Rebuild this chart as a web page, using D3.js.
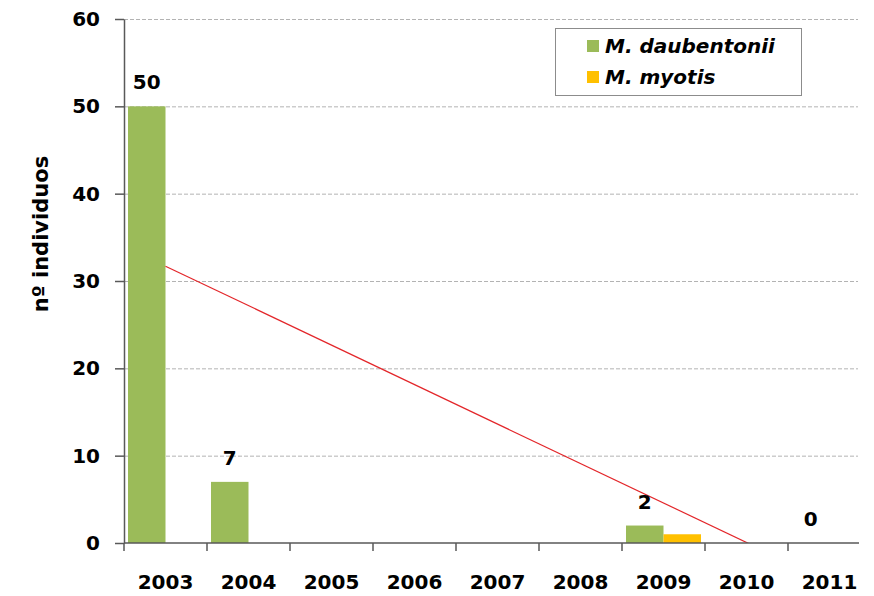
<!DOCTYPE html>
<html>
<head>
<meta charset="utf-8">
<script src="https://cdn.jsdelivr.net/npm/d3@7"></script>
<style>
  html, body { margin: 0; padding: 0; background: #fff; }
  svg { display: block; font-family: "DejaVu Sans", Verdana, sans-serif; }
</style>
</head>
<body>
<svg id="chart" width="874" height="596"></svg>
<script>
// Years surveyed
const years = ["2003", "2004", "2005", "2006", "2007", "2008", "2009", "2010", "2011"];
// Counts per species (null = no count that year)
const daubentonii = [50, 7, null, null, null, null, 2, null, 0];
const myotis = [0, 0, null, null, null, null, 1, null, null];
const seriesNames = ["M. daubentonii", "M. myotis"];
const seriesColors = ["#9BBB59", "#FFC000"];
const yTicks = [0, 10, 20, 30, 40, 50, 60];

const svg = d3.select("#chart");
const plotL = 124, plotR = 859, plotT = 19, plotB = 543;
const bandW = 83;

const x = d3.scaleBand().domain(years).range([plotL, plotL + bandW * years.length]).padding(0);
const xs = d3.scaleBand().domain(seriesNames).range([4, bandW - 4]).padding(0);
const y = d3.scaleLinear().domain([0, 60]).range([plotB, plotT]);

// Dashed horizontal gridlines
svg.append("g")
  .selectAll("line")
  .data(yTicks.filter(t => t > 0))
  .join("line")
  .attr("x1", plotL).attr("x2", plotR - 1)
  .attr("y1", d => y(d) + 0.5).attr("y2", d => y(d) + 0.5)
  .attr("stroke", "#b3b3b3")
  .attr("stroke-width", 1)
  .attr("stroke-dasharray", "4,2");

// Bars
const series = [daubentonii, myotis];
series.forEach((vals, si) => {
  svg.append("g")
    .selectAll("rect")
    .data(years.map((yr, i) => ({ yr, v: vals[i] })).filter(d => d.v !== null && d.v > 0))
    .join("rect")
    .attr("x", d => x(d.yr) + xs(seriesNames[si]))
    .attr("width", xs.bandwidth())
    .attr("y", d => y(d.v))
    .attr("height", d => y(0) - y(d.v))
    .attr("fill", seriesColors[si]);
});

// Linear trend of M. daubentonii (least squares over the counted years)
const pts = daubentonii.map((v, i) => ({ k: i + 1, v })).filter(d => d.v !== null);
const mk = d3.mean(pts, d => d.k), mv = d3.mean(pts, d => d.v);
const slope = d3.sum(pts, d => (d.k - mk) * (d.v - mv)) / d3.sum(pts, d => (d.k - mk) ** 2);
const icpt = mv - slope * mk;
const xk = k => x(years[k - 1]) + bandW / 2;

svg.append("clipPath").attr("id", "plotclip")
  .append("rect").attr("x", plotL).attr("y", plotT).attr("width", plotR - plotL).attr("height", plotB - plotT);

svg.append("line")
  .attr("clip-path", "url(#plotclip)")
  .attr("x1", xk(1)).attr("y1", y(icpt + slope * 1))
  .attr("x2", xk(years.length)).attr("y2", y(icpt + slope * years.length))
  .attr("stroke", "#E3262A")
  .attr("stroke-width", 1.2);

// Value labels for M. daubentonii
svg.append("g")
  .selectAll("text")
  .data(years.map((yr, i) => ({ yr, v: daubentonii[i] })).filter(d => d.v !== null))
  .join("text")
  .attr("x", d => x(d.yr) + xs(seriesNames[0]) + xs.bandwidth() / 2)
  .attr("y", d => y(d.v) - 17)
  .attr("text-anchor", "middle")
  .attr("font-size", 20)
  .attr("font-weight", "bold")
  .attr("fill", "#000")
  .text(d => d.v);

// Y axis
const axisColor = "#595959";
const yAxis = svg.append("g")
  .attr("transform", `translate(${plotL},0)`)
  .call(d3.axisLeft(y).tickValues(yTicks).tickSize(9).tickPadding(15).tickSizeOuter(0));
yAxis.select(".domain").attr("stroke", axisColor).attr("stroke-width", 1.5);
yAxis.selectAll(".tick line").attr("stroke", axisColor).attr("stroke-width", 1.5);
yAxis.selectAll(".tick text")
  .attr("font-size", 20).attr("font-weight", "bold").attr("fill", "#000")
  .attr("font-family", "DejaVu Sans, Verdana, sans-serif");

// X axis: ticks between categories, labels centred in each band
const xAxisG = svg.append("g").attr("transform", `translate(0,${plotB})`);
xAxisG.append("line")
  .attr("x1", plotL).attr("x2", plotR)
  .attr("stroke", axisColor).attr("stroke-width", 1.5);
xAxisG.selectAll("line.tick")
  .data(years)
  .join("line")
  .attr("class", "tick")
  .attr("x1", d => x(d)).attr("x2", d => x(d))
  .attr("y1", 0).attr("y2", 8)
  .attr("stroke", axisColor).attr("stroke-width", 1.5);
xAxisG.selectAll("text")
  .data(years)
  .join("text")
  .attr("x", d => x(d) + bandW / 2)
  .attr("y", 46)
  .attr("text-anchor", "middle")
  .attr("font-size", 20)
  .attr("font-weight", "bold")
  .attr("fill", "#000")
  .text(d => d);

// Y axis title
svg.append("text")
  .attr("transform", `translate(48,${(plotT + plotB) / 2 - 47}) rotate(-90)`)
  .attr("text-anchor", "middle")
  .attr("font-size", 21)
  .attr("font-weight", "bold")
  .attr("fill", "#000")
  .text("nº individuos");

// Legend
const lg = svg.append("g");
lg.append("rect")
  .attr("x", 555.5).attr("y", 28.5).attr("width", 246).attr("height", 67)
  .attr("fill", "#fff").attr("stroke", "#8c8c8c").attr("stroke-width", 1);
seriesNames.forEach((name, i) => {
  const cy = 46 + i * 31;
  lg.append("rect")
    .attr("x", 587).attr("y", cy - 6).attr("width", 12).attr("height", 12)
    .attr("fill", seriesColors[i]);
  lg.append("text")
    .attr("x", 605).attr("y", cy + 7)
    .attr("font-size", 20)
    .attr("font-weight", "bold")
    .attr("font-style", "italic")
    .attr("fill", "#000")
    .text(name);
});
</script>
</body>
</html>
